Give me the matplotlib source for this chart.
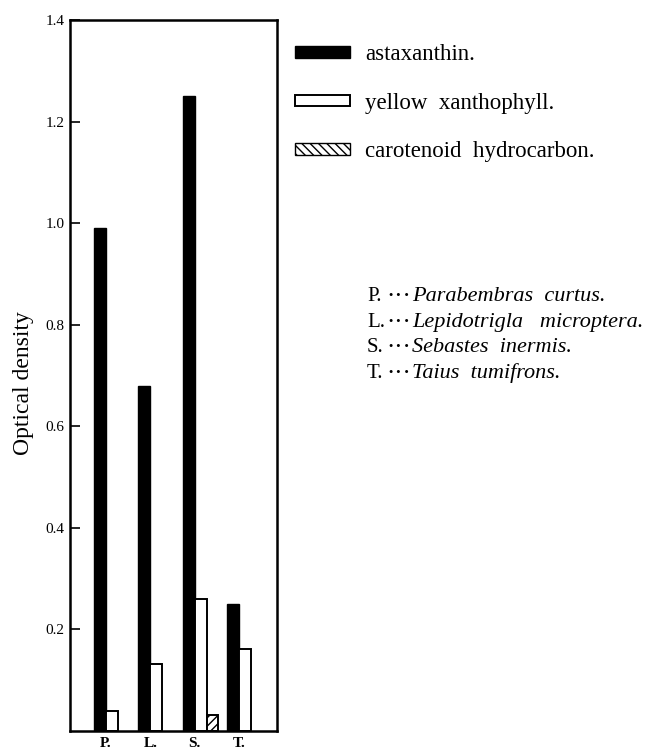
import numpy as np
import matplotlib
matplotlib.use('Agg')
import matplotlib.pyplot as plt
from matplotlib.patches import Patch

# Datos (densidad optica)
especies = ['P.', 'L.', 'S.', 'T.']
astaxantina = [0.99, 0.68, 1.25, 0.25]
xantofila = [0.04, 0.132, 0.26, 0.161]
carotenoide = [0.0, 0.0, 0.031, 0.0]
yticks = [0.2, 0.4, 0.6, 0.8, 1.0, 1.2, 1.4]
nombres_cortos = ['P', 'L', 'S', 'T']
nombres = ['Parabembras  curtus.', 'Lepidotrigla   microptera.',
           'Sebastes  inermis.', 'Taius  tumifrons.']
series = ['astaxanthin.', 'yellow  xanthophyll.', 'carotenoid  hydrocarbon.']

plt.rcParams['font.family'] = ['Liberation Serif', 'DejaVu Serif']

fig = plt.figure(figsize=(6.52, 7.52), dpi=100)
ax = fig.add_axes([70 / 652, 21 / 752, 207 / 652, 711 / 752])

x = np.arange(len(especies))
w = 0.27
ax.bar(x - w, astaxantina, w, align='edge', color='black', edgecolor='black', linewidth=1.0)
ax.bar(x, xantofila, w, align='edge', color='white', edgecolor='black', linewidth=1.4)
mask = np.array(carotenoide) > 0
ax.bar(x[mask] + w, np.array(carotenoide)[mask], w, align='edge', color='white',
       edgecolor='black', hatch='////', linewidth=1.4)

ax.set_xlim(-0.81, 3.86)
ax.set_ylim(0, 1.4)
ax.set_yticks(yticks)
ax.set_yticklabels([f'{v:.1f}' for v in yticks], fontsize=11)
ax.tick_params(axis='y', direction='in', length=7, width=1.2, pad=4)
ax.set_xticks(x)
ax.set_xticklabels(especies, fontsize=11, fontweight='bold')
ax.tick_params(axis='x', length=0, pad=4)
for s in ax.spines.values():
    s.set_linewidth(1.8)
ax.set_ylabel('Optical density', fontsize=17)
ax.yaxis.set_label_coords(-0.175, 0.489)

# Leyenda de las series
handles = [Patch(facecolor='black', edgecolor='black'),
           Patch(facecolor='white', edgecolor='black', linewidth=1.4),
           Patch(facecolor='white', edgecolor='black', hatch='\\\\\\\\', linewidth=1.0)]
fig.legend(handles, series, loc='upper left', bbox_to_anchor=(295 / 652, 1 - 44 / 752),
           frameon=False, fontsize=16.5, handlelength=2.4, handleheight=0.4,
           handletextpad=0.65, labelspacing=1.2, borderpad=0, borderaxespad=0)

# Lista de especies
for i, (c, n) in enumerate(zip(nombres_cortos, nombres)):
    yy = 1 - (297 + 25.5 * i) / 752
    fig.text(367 / 652, yy, c + '.', fontsize=15, va='center', ha='left')
    fig.text(411 / 652, yy, '\u00b7\u00b7\u00b7', fontsize=18, va='center', ha='right')
    fig.text(412 / 652, yy, n, fontsize=16, va='center', ha='left', style='italic')

fig.savefig('out.png', dpi=100)
